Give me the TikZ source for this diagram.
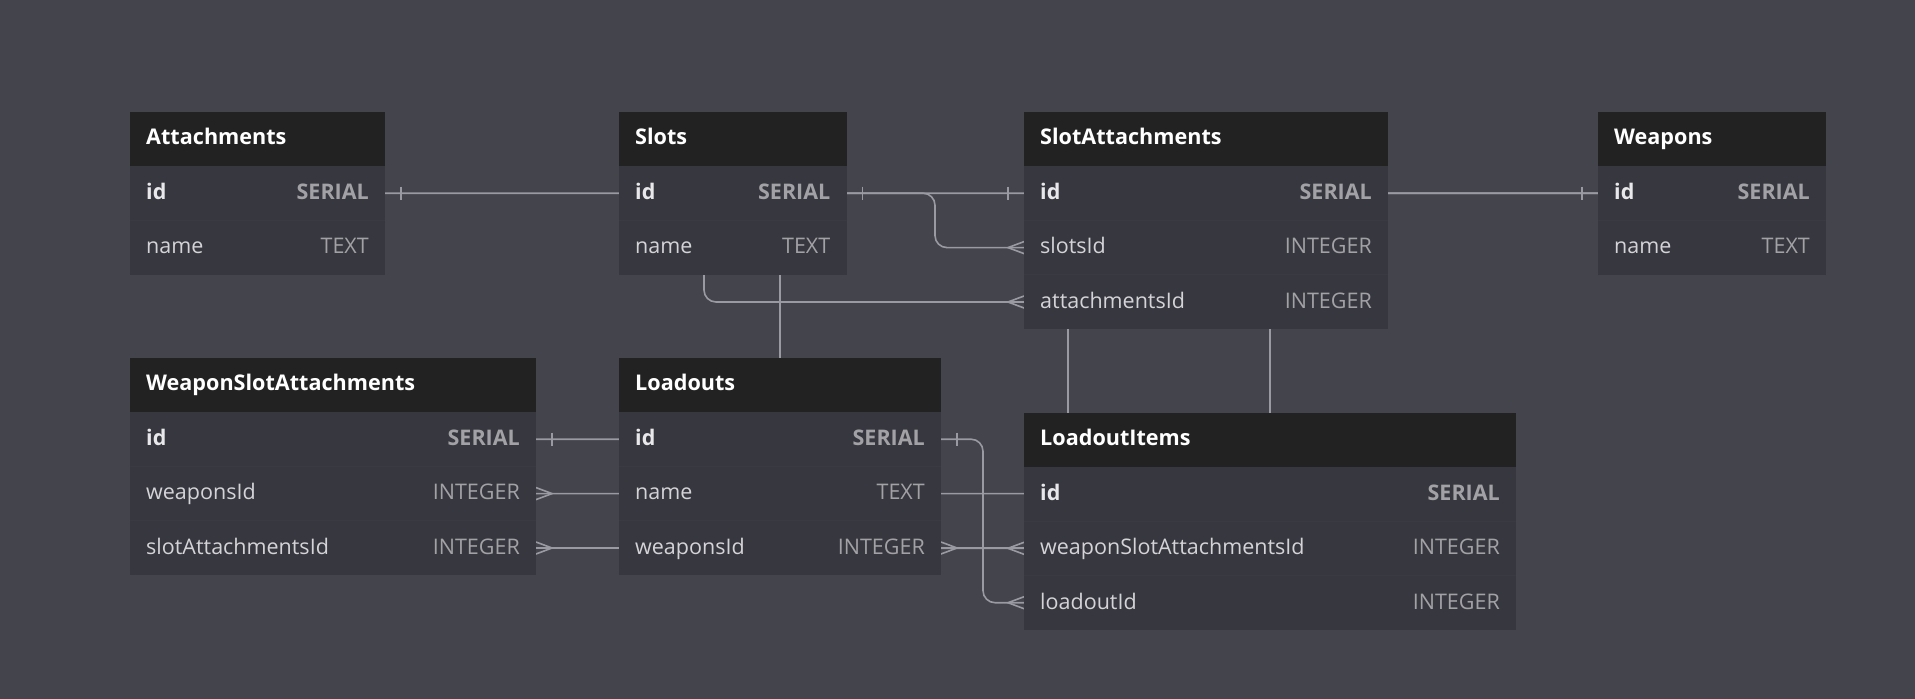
\documentclass[tikz,border=0pt]{standalone}
\usepackage{fontspec}
\setmainfont{Open Sans}
\usetikzlibrary{calc}
\pgfdeclarelayer{background}
\pgfsetlayers{background,main}
\definecolor{bgc}{HTML}{44444C}
\definecolor{hdrc}{HTML}{222222}
\definecolor{rowc}{HTML}{37373F}
\definecolor{sepc}{HTML}{3A3A42}
\definecolor{linec}{HTML}{9A9AA2}
\definecolor{keyc}{HTML}{E8E8EA}
\definecolor{namec}{HTML}{D4D4D8}
\definecolor{typec}{HTML}{A2A2A6}
\tikzset{
  hdr/.style={fill=hdrc, draw=none, minimum height=54, inner sep=0pt, outer sep=0pt},
  rowbox/.style={fill=rowc, draw=none, minimum height=54.4, inner sep=0pt, outer sep=0pt},
  sepline/.style={draw=sepc, line width=1pt},
  htext/.style={text=white, font=\fontsize{21.6}{24}\selectfont\bfseries, inner sep=0pt, anchor=base west},
  kname/.style={text=keyc, font=\fontsize{21.5}{24}\selectfont\bfseries, inner sep=0pt, anchor=base west},
  fname/.style={text=namec, font=\fontsize{21.5}{24}\selectfont, inner sep=0pt, anchor=base west},
  ktype/.style={text=typec, font=\fontsize{21.5}{24}\selectfont\bfseries, inner sep=0pt, anchor=base east},
  ftype/.style={text=typec, font=\fontsize{21.5}{24}\selectfont, inner sep=0pt, anchor=base east},
  conn/.style={draw=linec, line width=1.6pt, rounded corners=12pt},
  ermarker/.style={draw=linec, line width=1.6pt},
}
\newcommand{\ertable}[5]{%
  \node[hdr, minimum width=#3, anchor=north west] (#1) at (#2) {};
  \node[htext] (#1-title) at ([xshift=16pt, yshift=-5.6pt]#1.west) {#4};
  \foreach \fn/\ft/\sn/\st [count=\i] in {#5} {
    \node[rowbox, minimum width=#3, anchor=north west] (#1-\i) at ([yshift={-(\i-1)*54.4}]#1.south west) {};
    \ifnum\i>1 \draw[sepline] (#1-\i.north west) -- (#1-\i.north east);\fi
    \node[\sn] (#1-\i-n) at ([xshift=16pt, yshift=-6.3pt]#1-\i.west) {\fn};
    \node[\st] (#1-\i-t) at ([xshift=-16pt, yshift=-6.3pt]#1-\i.east) {\ft};
  }
}
\newcommand{\ertickR}[1]{\draw[ermarker] ([xshift=16pt, yshift=6.5pt]#1.east) -- ([xshift=16pt, yshift=-6.5pt]#1.east);}
\newcommand{\ertickL}[1]{\draw[ermarker] ([xshift=-16pt, yshift=6.5pt]#1.west) -- ([xshift=-16pt, yshift=-6.5pt]#1.west);}
\newcommand{\ercrowR}[1]{\draw[ermarker] ([yshift=6pt]#1.east) -- ([xshift=16pt]#1.east) -- ([yshift=-6pt]#1.east);}
\newcommand{\ercrowL}[1]{\draw[ermarker] ([yshift=6pt]#1.west) -- ([xshift=-16pt]#1.west) -- ([yshift=-6pt]#1.west);}
\begin{document}
\begin{tikzpicture}[x=1pt, y=-1pt]
\useasboundingbox (0,0) rectangle (1915,699);
\ertable{att}{130,112}{255}{Attachments}{id/SERIAL/kname/ktype, name/TEXT/fname/ftype}
\ertable{sl}{619,112}{227.5}{Slots}{id/SERIAL/kname/ktype, name/TEXT/fname/ftype}
\ertable{sa}{1024,112}{364}{SlotAttachments}{id/SERIAL/kname/ktype, slotsId/INTEGER/fname/ftype, attachmentsId/INTEGER/fname/ftype}
\ertable{wp}{1598,112}{228}{Weapons}{id/SERIAL/kname/ktype, name/TEXT/fname/ftype}
\ertable{wsa}{130,358}{406}{WeaponSlotAttachments}{id/SERIAL/kname/ktype, weaponsId/INTEGER/fname/ftype, slotAttachmentsId/INTEGER/fname/ftype}
\ertable{ld}{619,358}{322}{Loadouts}{id/SERIAL/kname/ktype, name/TEXT/fname/ftype, weaponsId/INTEGER/fname/ftype}
\ertable{li}{1024,412.7}{492}{LoadoutItems}{id/SERIAL/kname/ktype, weaponSlotAttachmentsId/INTEGER/fname/ftype, loadoutId/INTEGER/fname/ftype}
\coordinate (x704) at (704,0);
\coordinate (x780) at (780,0);
\coordinate (x935) at (935,0);
\coordinate (x983) at (983,0);
\coordinate (x1068) at (1068,0);
\coordinate (x1270) at (1270,0);
\begin{pgfonlayer}{background}
\fill[bgc] (0,0) rectangle (1915,699);
\draw[conn] (att-1.east) -| (x704 |- sa-3.west) -- (sa-3.west);
\draw[conn] (sl-1.east) -| (x935 |- sa-2.west) -- (sa-2.west);
\draw[conn] (sa-1.west) -| (x780 |- wsa-3.east) -- (wsa-3.east);
\draw[conn] (wp-1.west) -| (x1068 |- wsa-2.east) -- (wsa-2.east);
\draw[conn] (wp-1.west) -| (x1270 |- ld-3.east) -- (ld-3.east);
\draw[conn] (wsa-1.east) -| (x780 |- li-2.west) -- (li-2.west);
\draw[conn] (ld-1.east) -| (x983 |- li-3.west) -- (li-3.west);
\ertickR{att-1} \ercrowL{sa-3}
\ertickR{sl-1} \ercrowL{sa-2}
\ertickL{sa-1}
\ertickL{wp-1}
\ercrowR{wsa-2} \ercrowR{wsa-3} \ercrowR{ld-3}
\ertickR{wsa-1} \ercrowL{li-2}
\ertickR{ld-1} \ercrowL{li-3}
\end{pgfonlayer}
\end{tikzpicture}
\end{document}
